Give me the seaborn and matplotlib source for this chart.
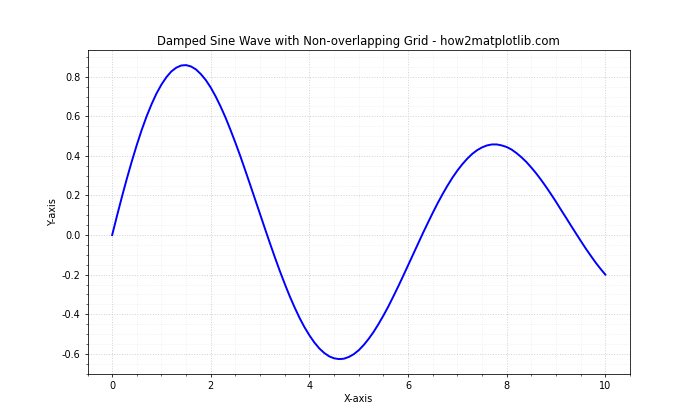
import numpy as np
import pandas as pd
import seaborn as sns
import matplotlib.pyplot as plt
from matplotlib.ticker import AutoMinorLocator

# values
x_vals = [0.0, 0.1, 0.2, 0.3, 0.4, 0.5, 0.6, 0.7, 0.8, 0.9,
          1.0, 1.1, 1.2, 1.3, 1.4, 1.5, 1.6, 1.7, 1.8, 1.9,
          2.0, 2.1, 2.2, 2.3, 2.4, 2.5, 2.6, 2.7, 2.8, 2.9,
          3.0, 3.1, 3.2, 3.3, 3.4, 3.5, 3.6, 3.7, 3.8, 3.9,
          4.0, 4.1, 4.2, 4.3, 4.4, 4.5, 4.6, 4.7, 4.8, 4.9,
          5.0, 5.1, 5.2, 5.3, 5.4, 5.5, 5.6, 5.7, 5.8, 5.9,
          6.0, 6.1, 6.2, 6.3, 6.4, 6.5, 6.6, 6.7, 6.8, 6.9,
          7.0, 7.1, 7.2, 7.3, 7.4, 7.5, 7.6, 7.7, 7.8, 7.9,
          8.0, 8.1, 8.2, 8.3, 8.4, 8.5, 8.6, 8.7, 8.8, 8.9,
          9.0, 9.1, 9.2, 9.3, 9.4, 9.5, 9.6, 9.7, 9.8, 9.9, 10.0]
y_vals = [0.0, 0.099, 0.195, 0.287, 0.374, 0.456, 0.532, 0.601, 0.662, 0.716,
          0.761, 0.798, 0.827, 0.846, 0.857, 0.859, 0.852, 0.837, 0.813, 0.783,
          0.745, 0.700, 0.649, 0.593, 0.531, 0.466, 0.398, 0.326, 0.253, 0.179,
          0.105, 0.031, -0.042, -0.113, -0.182, -0.247, -0.309, -0.366, -0.419, -0.466,
          -0.507, -0.543, -0.573, -0.596, -0.613, -0.623, -0.627, -0.625, -0.616, -0.602,
          -0.582, -0.556, -0.525, -0.490, -0.450, -0.407, -0.361, -0.311, -0.260, -0.207,
          -0.153, -0.099, -0.045, 0.009, 0.061, 0.112, 0.161, 0.207, 0.250, 0.290,
          0.326, 0.358, 0.386, 0.410, 0.429, 0.443, 0.453, 0.458, 0.458, 0.453,
          0.445, 0.432, 0.414, 0.393, 0.369, 0.341, 0.311, 0.278, 0.243, 0.206,
          0.168, 0.128, 0.089, 0.049, 0.010, -0.029, -0.067, -0.103, -0.138, -0.170, -0.200]

df = pd.DataFrame({'x': x_vals, 'y': y_vals})

plt.rcParams['axes.unicode_minus'] = False

fig, ax = plt.subplots(figsize=(10, 6), dpi=70)
sns.lineplot(data=df, x='x', y='y', color='blue', linewidth=2, ax=ax)

ax.xaxis.set_minor_locator(AutoMinorLocator())
ax.yaxis.set_minor_locator(AutoMinorLocator())
ax.grid(which='major', linestyle=':', color='#d0d0d0', linewidth=1)
ax.grid(which='minor', linestyle=':', color='#ececec', linewidth=0.8)
ax.set_axisbelow(True)

ax.set_title('Damped Sine Wave with Non-overlapping Grid - how2matplotlib.com')
ax.set_xlabel('X-axis')
ax.set_ylabel('Y-axis')

plt.savefig('out.png')
